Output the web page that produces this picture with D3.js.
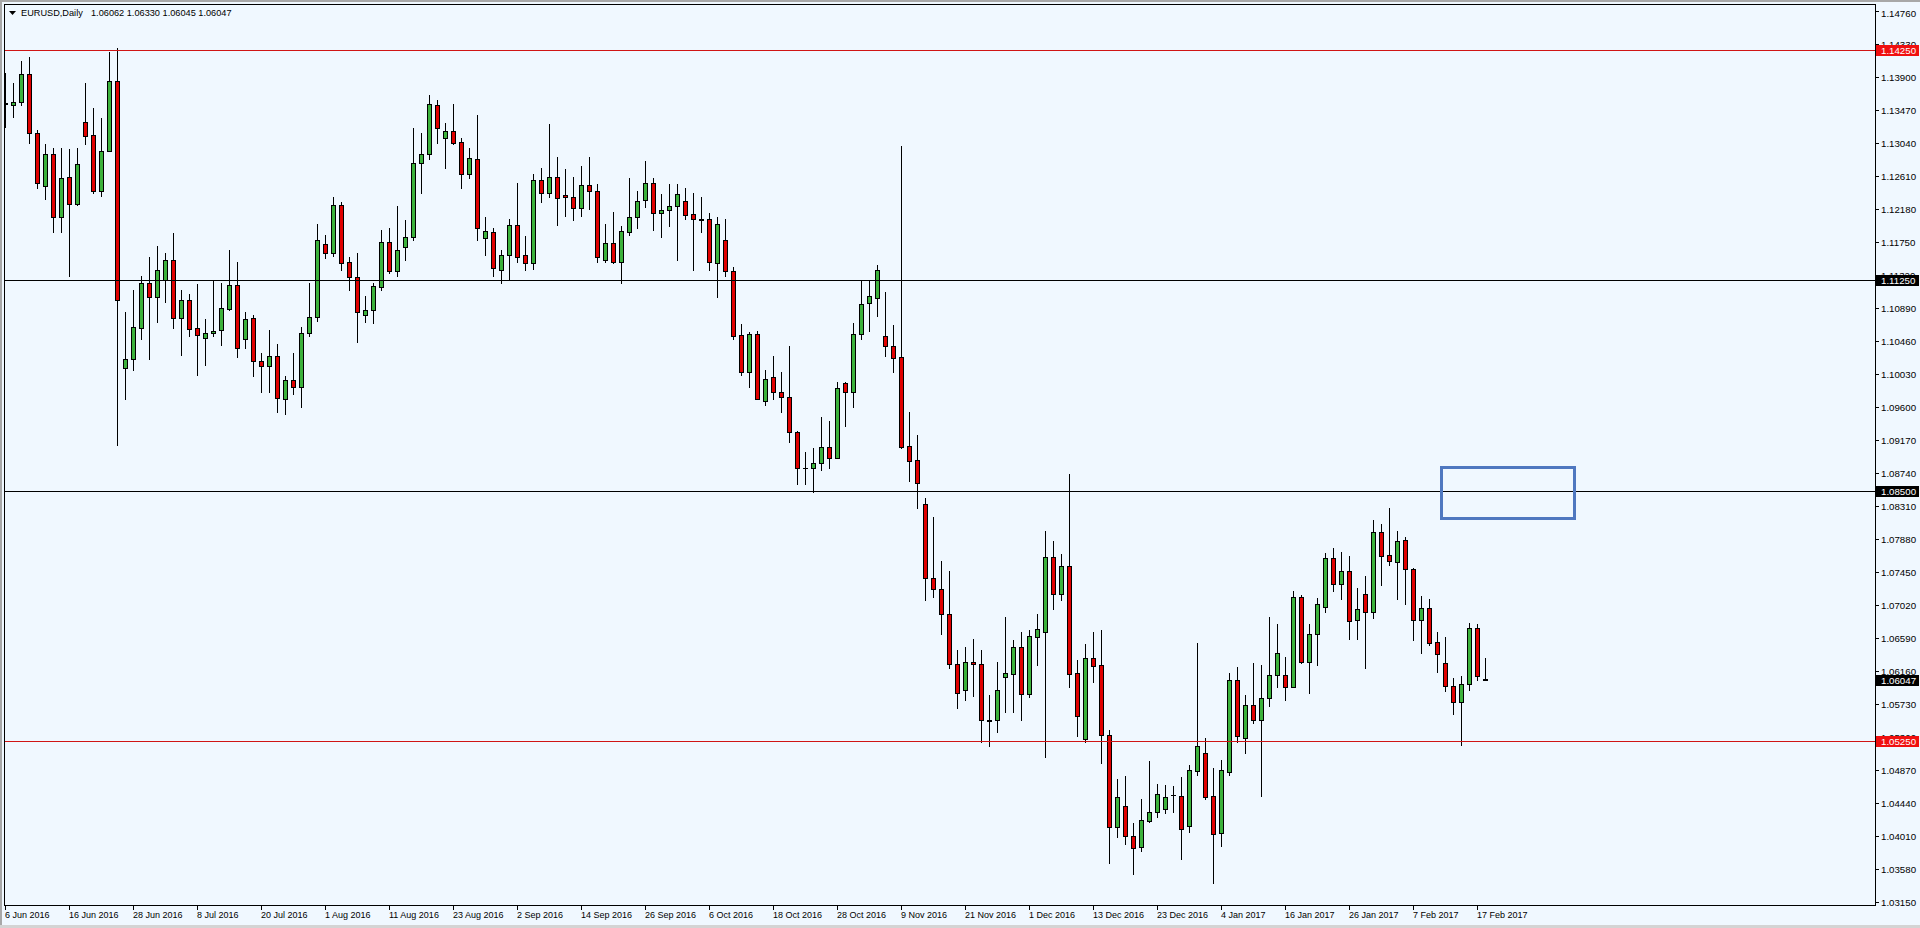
<!DOCTYPE html>
<html><head><meta charset="utf-8">
<script src="https://cdn.jsdelivr.net/npm/d3@7"></script>
<style>
html,body{margin:0;padding:0;background:#f0f8ff;overflow:hidden}
svg{display:block}
text{font-family:"Liberation Sans",Arial,sans-serif}
</style></head><body>
<script>
// ---------- DATA ----------
const dates = [
"2016-06-06","2016-06-07","2016-06-08","2016-06-09","2016-06-10","2016-06-13","2016-06-14","2016-06-15","2016-06-16","2016-06-17","2016-06-20","2016-06-21","2016-06-22","2016-06-23","2016-06-24","2016-06-27","2016-06-28","2016-06-29","2016-06-30",
"2016-07-01","2016-07-04","2016-07-05","2016-07-06","2016-07-07","2016-07-08","2016-07-11","2016-07-12","2016-07-13","2016-07-14","2016-07-15","2016-07-18","2016-07-19","2016-07-20","2016-07-21","2016-07-22","2016-07-25","2016-07-26","2016-07-27","2016-07-28","2016-07-29",
"2016-08-01","2016-08-02","2016-08-03","2016-08-04","2016-08-05","2016-08-08","2016-08-09","2016-08-10","2016-08-11","2016-08-12","2016-08-15","2016-08-16","2016-08-17","2016-08-18","2016-08-19","2016-08-22","2016-08-23","2016-08-24","2016-08-25","2016-08-26","2016-08-29","2016-08-30","2016-08-31",
"2016-09-01","2016-09-02","2016-09-05","2016-09-06","2016-09-07","2016-09-08","2016-09-09","2016-09-12","2016-09-13","2016-09-14","2016-09-15","2016-09-16","2016-09-19","2016-09-20","2016-09-21","2016-09-22","2016-09-23","2016-09-26","2016-09-27","2016-09-28","2016-09-29","2016-09-30",
"2016-10-03","2016-10-04","2016-10-05","2016-10-06","2016-10-07","2016-10-10","2016-10-11","2016-10-12","2016-10-13","2016-10-14","2016-10-17","2016-10-18","2016-10-19","2016-10-20","2016-10-21","2016-10-24","2016-10-25","2016-10-26","2016-10-27","2016-10-28","2016-10-31",
"2016-11-01","2016-11-02","2016-11-03","2016-11-04","2016-11-07","2016-11-08","2016-11-09","2016-11-10","2016-11-11","2016-11-14","2016-11-15","2016-11-16","2016-11-17","2016-11-18","2016-11-21","2016-11-22","2016-11-23","2016-11-24","2016-11-25","2016-11-28","2016-11-29","2016-11-30",
"2016-12-01","2016-12-02","2016-12-05","2016-12-06","2016-12-07","2016-12-08","2016-12-09","2016-12-12","2016-12-13","2016-12-14","2016-12-15","2016-12-16","2016-12-19","2016-12-20","2016-12-21","2016-12-22","2016-12-23","2016-12-26","2016-12-27","2016-12-28","2016-12-29","2016-12-30",
"2017-01-02","2017-01-03","2017-01-04","2017-01-05","2017-01-06","2017-01-09","2017-01-10","2017-01-11","2017-01-12","2017-01-13","2017-01-16","2017-01-17","2017-01-18","2017-01-19","2017-01-20","2017-01-23","2017-01-24","2017-01-25","2017-01-26","2017-01-27","2017-01-30","2017-01-31",
"2017-02-01","2017-02-02","2017-02-03","2017-02-06","2017-02-07","2017-02-08","2017-02-09","2017-02-10","2017-02-13","2017-02-14","2017-02-15","2017-02-16","2017-02-17","2017-02-20"];

const open = [
1.1356,1.1353,1.1357,1.1394,1.1317,1.1248,1.1289,1.1207,1.1260,1.1224,1.1331,1.1314,1.1242,1.1294,1.1385,1.1011,1.1022,1.1063,1.1122,1.1103,
1.1125,1.1152,1.1076,1.1100,1.1063,1.1050,1.1057,1.1060,1.1088,1.1119,1.1048,1.1076,1.1020,1.1013,1.1027,1.0971,1.0995,1.0986,1.1057,1.1077,
1.1172,1.1160,1.1223,1.1149,1.1129,1.1080,1.1087,1.1116,1.1175,1.1137,1.1169,1.1182,1.1278,1.1290,1.1353,1.1310,1.1320,1.1305,1.1263,1.1283,
1.1180,1.1188,1.1139,1.1158,1.1197,1.1158,1.1147,1.1256,1.1239,1.1260,1.1236,1.1234,1.1219,1.1249,1.1241,1.1152,1.1173,1.1149,1.1188,1.1207,
1.1229,1.1252,1.1213,1.1216,1.1222,1.1228,1.1211,1.1205,1.1205,1.1148,1.1178,1.1137,1.1054,1.1006,1.1055,1.0968,1.0999,1.0980,1.0973,1.0928,
1.0881,1.0881,1.0887,1.0908,1.0894,1.0991,1.0980,1.1055,1.1095,1.1102,1.1053,1.1040,1.1025,1.0909,1.0891,1.0834,1.0737,1.0723,1.0690,1.0625,
1.0592,1.0628,1.0625,1.0552,1.0552,1.0608,1.0612,1.0648,1.0586,1.0661,1.0667,1.0765,1.0717,1.0753,1.0613,1.0528,1.0633,1.0624,1.0533,1.0413,
1.0440,1.0401,1.0387,1.0421,1.0433,1.0437,1.0455,1.0453,1.0414,1.0486,1.0509,1.0453,1.0405,1.0484,1.0604,1.0529,1.0572,1.0552,1.0581,1.0611,
1.0611,1.0595,1.0713,1.0628,1.0664,1.0700,1.0763,1.0729,1.0746,1.0683,1.0717,1.0693,1.0797,1.0767,1.0758,1.0787,1.0749,1.0682,1.0698,1.0654,
1.0626,1.0597,1.0576,1.0599,1.0672,1.06062];

const high = [
1.1395,1.1382,1.1411,1.1416,1.1321,1.1303,1.1298,1.1298,1.1296,1.1297,1.1382,1.1349,1.1337,1.1422,1.1427,1.1084,1.1112,1.1131,1.1155,1.1170,
1.1160,1.1187,1.1112,1.1107,1.1120,1.1075,1.1126,1.1121,1.1165,1.1149,1.1084,1.1080,1.1030,1.1060,1.1042,1.1000,1.1031,1.1064,1.1121,1.1198,
1.1184,1.1234,1.1227,1.1156,1.1161,1.1105,1.1122,1.1191,1.1193,1.1222,1.1204,1.1323,1.1317,1.1366,1.1360,1.1330,1.1355,1.1311,1.1297,1.1340,
1.1208,1.1193,1.1165,1.1205,1.1252,1.1183,1.1264,1.1271,1.1329,1.1286,1.1270,1.1260,1.1274,1.1285,1.1251,1.1198,1.1214,1.1196,1.1258,1.1241,
1.1280,1.1258,1.1238,1.1251,1.1251,1.1245,1.1239,1.1234,1.1213,1.1207,1.1205,1.1143,1.1068,1.1058,1.1059,1.1008,1.1027,1.1005,1.1040,1.0929,
1.0901,1.0906,1.0947,1.0942,1.0992,1.0992,1.1070,1.1124,1.1124,1.1145,1.1110,1.1067,1.1300,1.0954,1.0924,1.0842,1.0817,1.0760,1.0746,1.0644,
1.0648,1.0658,1.0644,1.0585,1.0628,1.0686,1.0656,1.0667,1.0669,1.0691,1.0798,1.0786,1.0769,1.0873,1.0630,1.0651,1.0667,1.0670,1.0539,1.0475,
1.0479,1.0418,1.0450,1.0499,1.0469,1.0468,1.0466,1.0478,1.0494,1.0652,1.0529,1.0490,1.0500,1.0614,1.0622,1.0585,1.0627,1.0624,1.0686,1.0677,
1.0635,1.0720,1.0715,1.0677,1.0711,1.0770,1.0776,1.0771,1.0766,1.0724,1.0740,1.0813,1.0808,1.0828,1.0798,1.0791,1.0750,1.0714,1.0710,1.0667,
1.0660,1.0607,1.0610,1.0679,1.0677,1.06330];

const low = [
1.1325,1.1338,1.1353,1.1304,1.1245,1.1231,1.1188,1.1188,1.1130,1.1223,1.1303,1.1239,1.1235,1.1294,1.0911,1.0970,1.1008,1.1049,1.1022,1.1071,
1.1097,1.1063,1.1028,1.1053,1.1002,1.1015,1.1052,1.1041,1.1087,1.1025,1.1037,1.1000,1.0980,1.0979,1.0954,1.0951,1.0977,1.0960,1.1053,1.1072,
1.1154,1.1157,1.1139,1.1112,1.1045,1.1071,1.1070,1.1112,1.1135,1.1131,1.1152,1.1177,1.1239,1.1283,1.1304,1.1271,1.1303,1.1245,1.1258,1.1178,
1.1158,1.1131,1.1122,1.1126,1.1149,1.1138,1.1140,1.1227,1.1234,1.1197,1.1209,1.1203,1.1209,1.1218,1.1149,1.1149,1.1148,1.1122,1.1184,1.1193,
1.1220,1.1190,1.1181,1.1196,1.1152,1.1205,1.1138,1.1188,1.1139,1.1103,1.1131,1.1048,1.1002,1.0986,1.0970,1.0963,1.0970,1.0954,1.0915,1.0860,
1.0860,1.0849,1.0878,1.0881,1.0894,1.0935,1.0960,1.1048,1.1059,1.1079,1.1027,1.1006,1.0906,1.0864,1.0829,1.0708,1.0713,1.0665,1.0620,1.0568,
1.0578,1.0583,1.0524,1.0518,1.0537,1.0563,1.0563,1.0552,1.0582,1.0624,1.0504,1.0697,1.0709,1.0595,1.0531,1.0524,1.0602,1.0496,1.0366,1.0400,
1.0391,1.0352,1.0382,1.0420,1.0426,1.0431,1.0432,1.0371,1.0407,1.0481,1.0449,1.0340,1.0388,1.0481,1.0524,1.0509,1.0548,1.0453,1.0571,1.0595,
1.0578,1.0595,1.0626,1.0588,1.0624,1.0693,1.0720,1.0710,1.0658,1.0658,1.0620,1.0685,1.0728,1.0754,1.0710,1.0704,1.0656,1.0640,1.0650,1.0615,
1.0590,1.0560,1.0520,1.0591,1.0605,1.06045];

const close = [
1.1355,1.1357,1.1394,1.1317,1.1252,1.1289,1.1207,1.1258,1.1224,1.1276,1.1313,1.1241,1.1294,1.1385,1.1099,1.1022,1.1064,1.1122,1.1103,1.1139,
1.1152,1.1076,1.1100,1.1061,1.1054,1.1057,1.1059,1.1089,1.1119,1.1037,1.1074,1.1020,1.1013,1.1027,1.0972,1.0995,1.0986,1.1057,1.1077,1.1178,
1.1160,1.1223,1.1147,1.1129,1.1084,1.1087,1.1118,1.1175,1.1137,1.1165,1.1182,1.1278,1.1290,1.1355,1.1324,1.1319,1.1304,1.1263,1.1284,1.1193,
1.1189,1.1141,1.1158,1.1197,1.1156,1.1147,1.1256,1.1239,1.1260,1.1232,1.1234,1.1219,1.1249,1.1242,1.1156,1.1173,1.1149,1.1189,1.1207,1.1228,
1.1252,1.1213,1.1217,1.1222,1.1237,1.1210,1.1205,1.1203,1.1149,1.1199,1.1137,1.1053,1.1006,1.1055,1.0971,1.0997,1.0980,1.0973,1.0928,1.0880,
1.0880,1.0887,1.0908,1.0894,1.0985,1.0979,1.1055,1.1094,1.1104,1.1138,1.1040,1.1024,1.0908,1.0890,1.0861,1.0737,1.0723,1.0690,1.0625,1.0588,
1.0628,1.0625,1.0552,1.0551,1.0592,1.0613,1.0648,1.0586,1.0662,1.0671,1.0765,1.0717,1.0753,1.0612,1.0557,1.0633,1.0623,1.0533,1.0413,1.0452,
1.0401,1.0385,1.0422,1.0433,1.0456,1.0452,1.0455,1.0410,1.0487,1.0518,1.0452,1.0404,1.0487,1.0604,1.0531,1.0572,1.0552,1.0581,1.0611,1.0640,
1.0595,1.0713,1.0628,1.0664,1.0704,1.0763,1.0729,1.0746,1.0681,1.0697,1.0693,1.0797,1.0766,1.0759,1.0786,1.0749,1.0682,1.0698,1.0652,1.0638,
1.0596,1.0576,1.0599,1.0672,1.0610,1.06047];

const priceTicks = [1.14760,1.14330,1.13900,1.13470,1.13040,1.12610,1.12180,1.11750,1.11320,1.10890,1.10460,1.10030,1.09600,1.09170,
  1.08740,1.08310,1.07880,1.07450,1.07020,1.06590,1.06160,1.05730,1.05300,1.04870,1.04440,1.04010,1.03580,1.03150];
const dateTickLabels = ["6 Jun 2016","16 Jun 2016","28 Jun 2016","8 Jul 2016","20 Jul 2016","1 Aug 2016","11 Aug 2016","23 Aug 2016",
  "2 Sep 2016","14 Sep 2016","26 Sep 2016","6 Oct 2016","18 Oct 2016","28 Oct 2016","9 Nov 2016","21 Nov 2016","1 Dec 2016",
  "13 Dec 2016","23 Dec 2016","4 Jan 2017","16 Jan 2017","26 Jan 2017","7 Feb 2017","17 Feb 2017"];
const redLevels = [1.14250, 1.05250];
const blackLevels = [1.11250, 1.08500];
const lastPrice = 1.06047;
const symbolTitle = "EURUSD,Daily";
const headerValues = ["1.06062","1.06330","1.06045","1.06047"];
const zoneBars = [179.5, 196.1];      // bar index span of the drawn rectangle
const zonePrices = [1.08825, 1.08157]; // price span of the drawn rectangle

// ---------- LAYOUT / STYLE ----------
const W = 1920, H = 928;
const P = {left: 4, right: 1875, top: 4, bottom: 905};
const C = {bg: "#f0f8ff", bull: "#3cb23c", bear: "#e00000", redLine: "#d01515", redBox: "#f01010", zone: "#4f78c0", frame: "#a8a8a8"};

const x = d3.scaleLinear().domain([0, dates.length - 1]).range([5, 5 + 8 * (dates.length - 1)]);
const y = d3.scaleLinear().domain([1.0525, 1.1425]).range([741, 50]);
const Y = v => Math.round(y(v));
const X = i => Math.round(x(i));
const fmtDate = d3.timeFormat("%-d %b %Y");
const parse = d3.timeParse("%Y-%m-%d");

const svg = d3.select("body").append("svg").attr("width", W).attr("height", H)
  .attr("shape-rendering", "crispEdges");
svg.append("rect").attr("width", W).attr("height", H).attr("fill", C.bg);

// outer frame
svg.append("rect").attr("x", 0).attr("y", 0).attr("width", W).attr("height", 2).attr("fill", C.frame);
svg.append("rect").attr("x", 0).attr("y", 0).attr("width", 2).attr("height", H).attr("fill", C.frame);
svg.append("rect").attr("x", 0).attr("y", 925).attr("width", W).attr("height", 3).attr("fill", "#d4d4d4");

svg.append("clipPath").attr("id", "plotclip").append("rect")
  .attr("x", P.left + 1).attr("y", P.top + 1).attr("width", P.right - P.left - 1).attr("height", P.bottom - P.top - 1);
const plot = svg.append("g").attr("clip-path", "url(#plotclip)");

// candles
const bars = d3.range(dates.length).map(i => ({i, o: open[i], h: high[i], l: low[i], c: close[i]}));
const g = plot.append("g");
g.selectAll("line.wick").data(bars).join("line").attr("class", "wick")
  .attr("x1", d => X(d.i) + 0.5).attr("x2", d => X(d.i) + 0.5)
  .attr("y1", d => Y(d.h)).attr("y2", d => Y(d.l) + 1)
  .attr("stroke", "#000").attr("stroke-width", 1);
bars.forEach(d => {
  const top = Y(Math.max(d.o, d.c)), bot = Y(Math.min(d.o, d.c));
  const cx = X(d.i);
  if (bot - top < 1) {
    g.append("line").attr("x1", cx - 2).attr("x2", cx + 3).attr("y1", top + 0.5).attr("y2", top + 0.5)
      .attr("stroke", "#000");
  } else {
    g.append("rect").attr("x", cx - 1.5).attr("y", top + 0.5).attr("width", 4).attr("height", bot - top)
      .attr("fill", d.c > d.o ? C.bull : C.bear).attr("stroke", "#000").attr("stroke-width", 1);
  }
});

// horizontal levels
redLevels.forEach(p => plot.append("line").attr("x1", P.left).attr("x2", P.right)
  .attr("y1", Y(p) + 0.5).attr("y2", Y(p) + 0.5).attr("stroke", C.redLine));
blackLevels.forEach(p => plot.append("line").attr("x1", P.left).attr("x2", P.right)
  .attr("y1", Y(p) + 0.5).attr("y2", Y(p) + 0.5).attr("stroke", "#000"));

// rectangle zone
plot.append("rect")
  .attr("x", X(zoneBars[0]) + 0.5).attr("y", Y(zonePrices[0]) + 0.5)
  .attr("width", X(zoneBars[1]) - X(zoneBars[0])).attr("height", Y(zonePrices[1]) - Y(zonePrices[0]))
  .attr("fill", "none").attr("stroke", C.zone).attr("stroke-width", 3);

// plot border
svg.append("rect").attr("x", P.left + 0.5).attr("y", P.top + 0.5)
  .attr("width", P.right - P.left).attr("height", P.bottom - P.top)
  .attr("fill", "none").attr("stroke", "#000");

// price axis
const pa = svg.append("g");
priceTicks.forEach(t => {
  const ty = Y(t);
  pa.append("line").attr("x1", P.right).attr("x2", P.right + 4).attr("y1", ty + 0.5).attr("y2", ty + 0.5).attr("stroke", "#000");
  pa.append("text").attr("x", P.right + 6).attr("y", Math.max(ty, 13) + 3.5)
    .attr("font-size", "9.7px").attr("fill", "#000").text(t.toFixed(5));
});
function priceBox(p, fill) {
  const ty = Y(p);
  pa.append("rect").attr("x", P.right + 1).attr("y", ty - 5).attr("width", 43).attr("height", 11).attr("fill", fill);
  pa.append("text").attr("x", P.right + 6).attr("y", ty + 4)
    .attr("font-size", "9.7px").attr("fill", "#fff").text(p.toFixed(5));
}
redLevels.forEach(p => priceBox(p, C.redBox));
blackLevels.forEach(p => priceBox(p, "#000"));
priceBox(lastPrice, "#000");

// time axis
const ta = svg.append("g");
dates.forEach((ds, i) => {
  const lab = fmtDate(parse(ds));
  if (!dateTickLabels.includes(lab)) return;
  const cx = X(i);
  ta.append("line").attr("x1", cx + 0.5).attr("x2", cx + 0.5).attr("y1", P.bottom).attr("y2", P.bottom + 5).attr("stroke", "#000");
  ta.append("text").attr("x", cx).attr("y", 918).attr("font-size", "9px").attr("fill", "#000").text(lab);
});

// header
svg.append("path").attr("d", "M9,11L16,11L12.5,15Z").attr("fill", "#000").attr("shape-rendering", "auto");
svg.append("text").attr("x", 21).attr("y", 16).attr("font-size", "9.2px").attr("fill", "#000").text(symbolTitle);
svg.append("text").attr("x", 91).attr("y", 16).attr("font-size", "9.2px").attr("fill", "#000").text(headerValues.join(" "));
</script>
</body></html>
